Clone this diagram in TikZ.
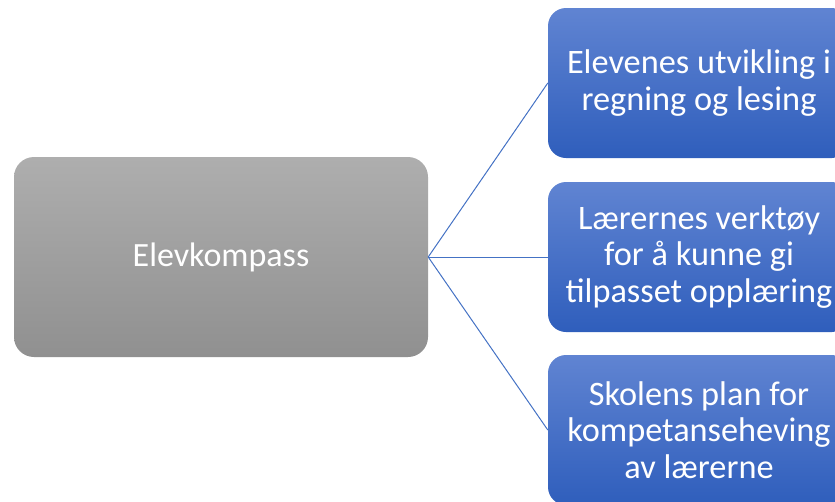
\documentclass[tikz,border=0pt]{standalone}
\usepackage{fontspec}
\setmainfont{Carlito}
\definecolor{bluetop}{RGB}{96,132,210}
\definecolor{bluebot}{RGB}{47,94,188}
\definecolor{graytop}{RGB}{174,174,174}
\definecolor{graybot}{RGB}{144,144,144}
\definecolor{linkblue}{RGB}{68,114,196}
\tikzset{
  graybox/.style={rounded corners=20pt, top color=graytop, bottom color=graybot, draw=none,
    minimum width=414pt, minimum height=200pt, text=white, align=center, inner sep=0pt,
    font=\fontsize{34}{36.5}\selectfont},
  bluebox/.style={rounded corners=18pt, top color=bluetop, bottom color=bluebot, draw=none,
    minimum width=302pt, minimum height=150pt, text=white, align=center, inner sep=0pt,
    font=\fontsize{34.3}{36.5}\selectfont},
  link/.style={draw=linkblue, line width=1pt}
}
\begin{document}
\begin{tikzpicture}[x=1pt,y=-1pt]
\useasboundingbox (0,0) rectangle (835,501);
\clip (0,0) rectangle (835,501);
\node[graybox] (g) at (221,257) {Elevkompass};
\node[bluebox] (b1) at (699,83) {Elevenes utvikling i\\regning og lesing};
\node[bluebox] (b2) at (699,257) {Lærernes verktøy\\for å kunne gi\\tilpasset opplæring};
\node[bluebox] (b3) at (699,430) {Skolens plan for\\kompetanseheving\\av lærerne};
\draw[link] (g.east) -- (b1.west);
\draw[link] (g.east) -- (b2.west);
\draw[link] (g.east) -- (b3.west);
\end{tikzpicture}
\end{document}
